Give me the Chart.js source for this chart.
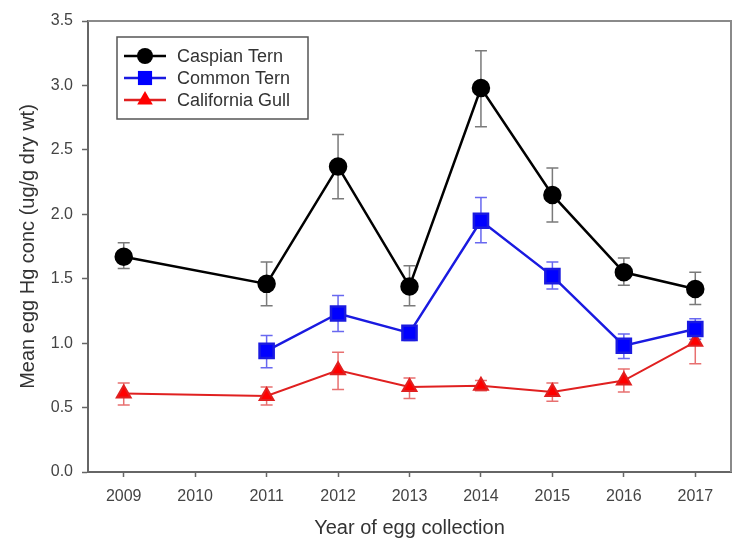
<!DOCTYPE html>
<html>
<head>
<meta charset="utf-8">
<script src="https://cdn.jsdelivr.net/npm/chart.js@4.4.0/dist/chart.umd.min.js"></script>
<style>
  html, body { margin: 0; padding: 0; background: #fff; overflow: hidden; }
  #wrap { width: 732px; height: 544px; position: relative; }
  canvas { display: block; }
</style>
</head>
<body>
<div id="wrap"><canvas id="chart"></canvas></div>
<script>
// Years on the x axis
const yearTicks = [2009, 2010, 2011, 2012, 2013, 2014, 2015, 2016, 2017];

// Caspian Tern
const caspianYears = [2009, 2011, 2012, 2013, 2014, 2015, 2016, 2017];
const caspianMean  = [1.67, 1.46, 2.37, 1.44, 2.98, 2.15, 1.55, 1.42];
const caspianHigh  = [1.78, 1.63, 2.62, 1.60, 3.27, 2.36, 1.66, 1.55];
const caspianLow   = [1.58, 1.29, 2.12, 1.29, 2.68, 1.94, 1.45, 1.30];

// Common Tern
const commonYears = [2011, 2012, 2013, 2014, 2015, 2016, 2017];
const commonMean  = [0.94, 1.23, 1.08, 1.95, 1.52, 0.98, 1.11];
const commonHigh  = [1.06, 1.37, 1.13, 2.13, 1.63, 1.07, 1.19];
const commonLow   = [0.81, 1.09, 1.02, 1.78, 1.42, 0.88, 1.03];

// California Gull
const gullYears = [2009, 2011, 2012, 2013, 2014, 2015, 2016, 2017];
const gullMean  = [0.61, 0.59, 0.79, 0.66, 0.67, 0.62, 0.71, 1.01];
const gullHigh  = [0.69, 0.66, 0.93, 0.73, 0.71, 0.69, 0.80, 1.09];
const gullLow   = [0.52, 0.52, 0.64, 0.57, 0.63, 0.55, 0.62, 0.84];

const FONT = '"Liberation Sans", Arial, sans-serif';

function toPoints(xs, ys) {
  return xs.map((x, i) => ({ x: x, y: ys[i] }));
}

// Error bars drawn under the markers
const errorBars = {
  id: 'errorBars',
  beforeDatasetsDraw(chart) {
    const ctx = chart.ctx;
    const yScale = chart.scales.y;
    chart.data.datasets.forEach((ds, di) => {
      const meta = chart.getDatasetMeta(di);
      ctx.save();
      ctx.strokeStyle = ds.errColor;
      ctx.lineWidth = 1.5;
      meta.data.forEach((pt, i) => {
        const top = yScale.getPixelForValue(ds.errHigh[i]);
        const bot = yScale.getPixelForValue(ds.errLow[i]);
        const x = pt.x;
        ctx.beginPath();
        ctx.moveTo(x, top); ctx.lineTo(x, bot);
        ctx.moveTo(x - 6, top); ctx.lineTo(x + 6, top);
        ctx.moveTo(x - 6, bot); ctx.lineTo(x + 6, bot);
        ctx.stroke();
      });
      ctx.restore();
    });
  }
};

// Top and right frame lines
const frame = {
  id: 'frame',
  beforeDatasetsDraw(chart) {
    const { ctx, chartArea: a } = chart;
    ctx.save();
    ctx.strokeStyle = '#8a8a8a';
    ctx.lineWidth = 2;
    ctx.beginPath();
    ctx.moveTo(a.left, a.top);
    ctx.lineTo(a.right, a.top);
    ctx.lineTo(a.right, a.bottom);
    ctx.stroke();
    ctx.restore();
  }
};

// Boxed legend inside the plot
const boxLegend = {
  id: 'boxLegend',
  afterDraw(chart) {
    const ctx = chart.ctx;
    const x0 = 117, y0 = 37, w = 191, h = 82;
    ctx.save();
    ctx.strokeStyle = '#555';
    ctx.lineWidth = 1.5;
    ctx.strokeRect(x0, y0, w, h);
    chart.data.datasets.forEach((ds, i) => {
      const y = 56 + i * 22;
      ctx.strokeStyle = ds.borderColor;
      ctx.lineWidth = 2.5;
      ctx.beginPath();
      ctx.moveTo(124, y); ctx.lineTo(166, y);
      ctx.stroke();
      ctx.fillStyle = ds.backgroundColor;
      Chart.helpers.drawPoint(ctx, {
        pointStyle: ds.pointStyle,
        radius: ds.legendRadius,
        borderWidth: 0,
        rotation: 0
      }, 145, y);
      ctx.fillStyle = '#333';
      ctx.font = '18px ' + FONT;
      ctx.textBaseline = 'middle';
      ctx.fillText(ds.label, 177, y + 1);
    });
    ctx.restore();
  }
};

new Chart(document.getElementById('chart'), {
  type: 'line',
  data: {
    datasets: [
      {
        label: 'Caspian Tern',
        data: toPoints(caspianYears, caspianMean),
        errHigh: caspianHigh, errLow: caspianLow, errColor: '#7a7a7a',
        borderColor: '#000', backgroundColor: '#000',
        borderWidth: 2.5, pointStyle: 'circle', pointRadius: 8, legendRadius: 8
      },
      {
        label: 'Common Tern',
        data: toPoints(commonYears, commonMean),
        errHigh: commonHigh, errLow: commonLow, errColor: '#6868f0',
        borderColor: '#1a1ae0', backgroundColor: '#0000ff',
        borderWidth: 2.5, pointStyle: 'rect', pointRadius: 10, legendRadius: 10
      },
      {
        label: 'California Gull',
        data: toPoints(gullYears, gullMean),
        errHigh: gullHigh, errLow: gullLow, errColor: '#e87070',
        borderColor: '#e02020', backgroundColor: '#ff0000',
        borderWidth: 2, pointStyle: 'triangle', pointRadius: 8, legendRadius: 9
      }
    ]
  },
  options: {
    responsive: true,
    maintainAspectRatio: false,
    animation: false,
    layout: { autoPadding: false, padding: { top: 21, right: 1, left: 0, bottom: 0 } },
    elements: {
      line: { tension: 0 },
      point: { borderWidth: 0, hoverRadius: 8 }
    },
    scales: {
      x: {
        type: 'linear',
        min: 2008.5,
        max: 2017.5,
        afterBuildTicks: (scale) => {
          scale.ticks = yearTicks.map(v => ({ value: v }));
        },
        afterFit: (scale) => {
          scale.height = 72;
          scale.paddingLeft = 0;
          scale.paddingRight = 0;
        },
        grid: { drawOnChartArea: false, drawTicks: true, tickLength: 5, color: '#666', tickWidth: 1.5 },
        border: { color: '#666', width: 2 },
        ticks: {
          padding: 10,
          color: '#444',
          font: { family: FONT, size: 16 },
          callback: (v) => String(v)
        },
        title: {
          display: true,
          text: 'Year of egg collection',
          color: '#333',
          font: { family: FONT, size: 20 },
          padding: { top: 0, bottom: 4 }
        }
      },
      y: {
        min: 0,
        max: 3.5,
        afterFit: (scale) => { scale.width = 88; },
        grid: { drawOnChartArea: false, drawTicks: true, tickLength: 6, color: '#666', tickWidth: 1.5 },
        border: { color: '#666', width: 2 },
        ticks: {
          stepSize: 0.5,
          padding: 9,
          color: '#444',
          font: { family: FONT, size: 16 },
          callback: (v) => Number(v).toFixed(1)
        },
        title: {
          display: true,
          text: 'Mean egg Hg conc (ug/g dry wt)',
          color: '#333',
          font: { family: FONT, size: 20 },
          padding: { top: 16, bottom: 0 }
        }
      }
    },
    plugins: {
      legend: { display: false },
      tooltip: { enabled: false }
    }
  },
  plugins: [frame, errorBars, boxLegend]
});
</script>
</body>
</html>
